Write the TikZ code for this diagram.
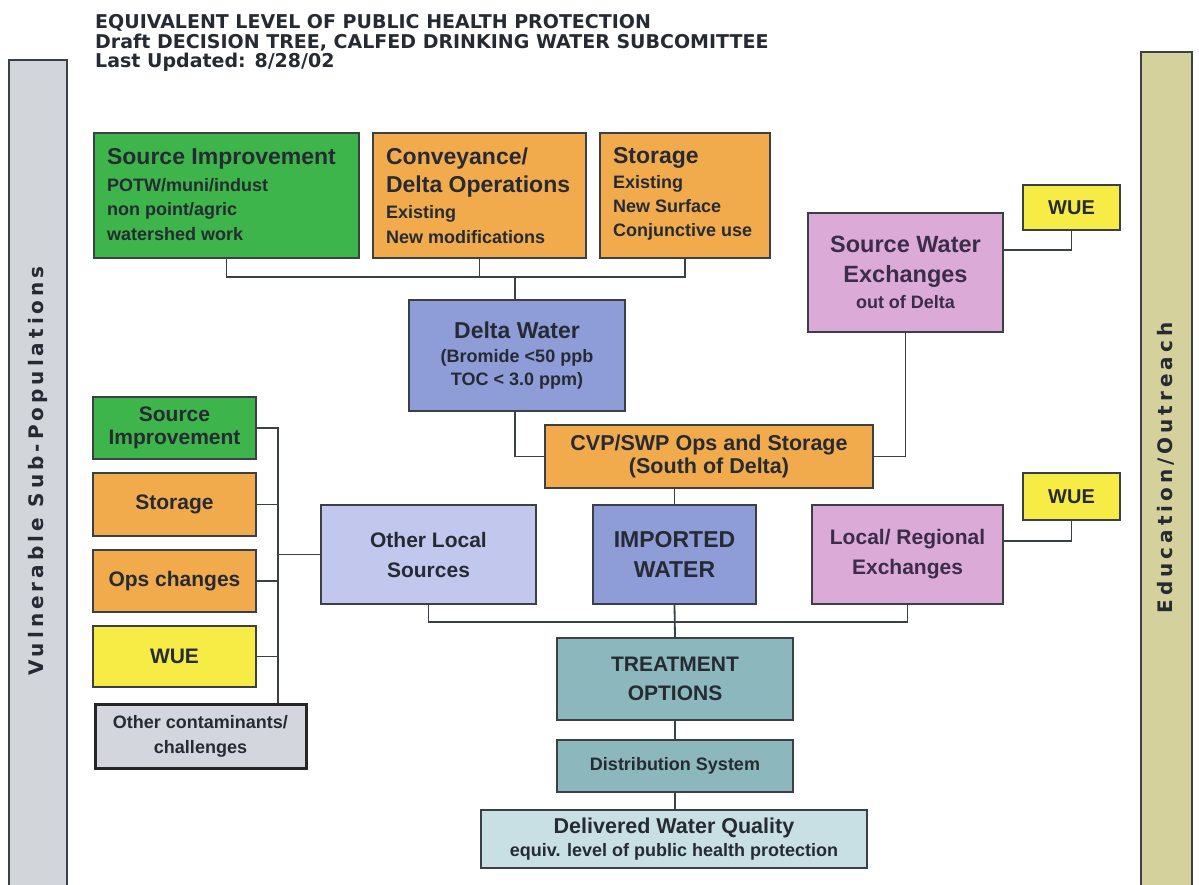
\documentclass[tikz,border=0pt]{standalone}
\usepackage{fontspec}
\setmainfont{Liberation Sans}
\newfontfamily\hdfont{DejaVu Sans}
\newfontfamily\vfont{DejaVu Sans}[LetterSpace=20]
\newcommand\fs[2]{\fontsize{#1}{#2}\selectfont}
\definecolor{bord}{HTML}{3B4046}
\definecolor{txt}{HTML}{262B33}
\definecolor{ptxt}{HTML}{3A2D4A}
\definecolor{cgreen}{HTML}{3DB54A}
\definecolor{corange}{HTML}{F1AA4C}
\definecolor{cyellow}{HTML}{F6EC45}
\definecolor{cblue}{HTML}{8E9CD8}
\definecolor{clblue}{HTML}{C2C7EE}
\definecolor{cpink}{HTML}{DCAAD6}
\definecolor{cteal}{HTML}{8CB8BD}
\definecolor{clteal}{HTML}{C8E0E4}
\definecolor{cgray}{HTML}{D3D6DC}
\definecolor{cbarl}{HTML}{D2D5DA}
\definecolor{cbarr}{HTML}{D4D19C}
\begin{document}
\begin{tikzpicture}[x=1pt,y=-1pt,
  box/.style={draw=bord, line width=2.2pt, inner sep=0pt, text=txt, align=center},
  ltxt/.style={anchor=west, inner sep=0pt, text=txt, align=left},
  conn/.style={draw=bord, line width=1.8pt},
  hd/.style={anchor=base west, inner sep=0pt, text=txt, font=\hdfont\bfseries\fs{19}{20}},
  vlab/.style={rotate=90, inner sep=0pt, text=txt, font=\vfont\bfseries\fs{20}{22}}
]
\useasboundingbox (0,0) rectangle (1199,884);
\fill[white] (0,0) rectangle (1199,884);

% side bars
\draw[draw=bord, line width=2.5pt, fill=cbarl] (9,60) rectangle (67,895);
\draw[draw=bord, line width=2.5pt, fill=cbarr] (1141,52) rectangle (1192,895);
\node[vlab] (vsp) at (38,471) {Vulnerable Sub-Populations};
\node[vlab] (edu) at (1166,468) {Education/Outreach};

% header
\node[hd] (t1) at (95,28.5) {EQUIVALENT LEVEL OF PUBLIC HEALTH PROTECTION};
\node[hd] (t2) at (95,48) {Draft DECISION TREE, CALFED DRINKING WATER SUBCOMITTEE};
\node[hd] (t3) at (95,67.5) {Last Updated: 8/28/02};

% top row
\node[box, fill=cgreen, minimum width=265pt, minimum height=125pt] (si) at (226.5,195.5) {};
\node[ltxt, font=\bfseries\fs{18}{24.5}] (sitxt) at ([xshift=14pt,yshift=1pt]si.west)
  {\fs{23}{27}Source Improvement\\[2pt]POTW/muni/indust\\non point/agric\\watershed work};
\node[box, fill=corange, minimum width=213pt, minimum height=125pt] (conv) at (479.5,195.5) {};
\node[ltxt, font=\bfseries\fs{18}{24.5}] (convtxt) at ([xshift=14pt]conv.west)
  {\fs{23}{27}Conveyance/\\[3.5pt]\fs{23}{27}Delta Operations\\[2pt]Existing\\New modifications};
\node[box, fill=corange, minimum width=170pt, minimum height=125pt] (stor) at (685,195.5) {};
\node[ltxt, font=\bfseries\fs{18}{24}] (stortxt) at ([xshift=14pt,yshift=2pt]stor.west)
  {\fs{23}{27}Storage\\[1pt]Existing\\New Surface\\Conjunctive use};

\node[box, fill=cblue, minimum width=216pt, minimum height=111pt, font=\bfseries\fs{18}{23}] (delta) at (517,355.5)
  {\fs{23}{27}Delta Water\\[1pt](Bromide <50 ppb\\TOC < 3.0 ppm)};
\node[box, fill=corange, minimum width=328pt, minimum height=63pt, font=\bfseries\fs{21.5}{23}] (cvp) at (709,456.5)
  {CVP/SWP Ops and Storage\\(South of Delta)};
\node[box, fill=cpink, text=ptxt, minimum width=195pt, minimum height=119pt, font=\bfseries\fs{18}{26}] (swe) at (905.5,272.5)
  {\fs{23.5}{30}Source Water\\[4pt]\fs{23.5}{30}Exchanges\\out of Delta};
\node[box, fill=cyellow, minimum width=97pt, minimum height=45pt, font=\bfseries\fs{20}{22}] (wue1) at (1071.5,207.5)
  {WUE};

% middle row
\node[box, fill=clblue, minimum width=215pt, minimum height=99pt, font=\bfseries\fs{21}{30}] (ols) at (428.5,554.5)
  {Other Local\\Sources};
\node[box, fill=cblue, minimum width=163pt, minimum height=99pt, font=\bfseries\fs{23}{30}] (imp) at (674.5,554.5)
  {IMPORTED\\WATER};
\node[box, fill=cpink, text=ptxt, minimum width=191pt, minimum height=99pt, font=\bfseries\fs{21}{30}] (lre) at (907.5,554.5)
  {Local/ Regional\\Exchanges};
\node[box, fill=cyellow, minimum width=97pt, minimum height=47pt, font=\bfseries\fs{20}{22}] (wue2) at (1071.5,496.5)
  {WUE};

% bottom chain
\node[box, fill=cteal, minimum width=236pt, minimum height=82pt, font=\bfseries\fs{21}{29}] (treat) at (675,679)
  {TREATMENT\\OPTIONS};
\node[box, fill=cteal, minimum width=236pt, minimum height=52pt, font=\bfseries\fs{18}{20}] (dist) at (675,766)
  {Distribution System};
\node[box, fill=clteal, minimum width=386pt, minimum height=58pt, font=\bfseries\fs{18}{23}] (dwq) at (674,839)
  {\fs{21.5}{23}Delivered Water Quality\\equiv. level of public health protection};

% left column
\node[box, fill=cgreen, minimum width=163pt, minimum height=62pt, font=\bfseries\fs{21}{23.5}] (lsi) at (174.5,428)
  {Source\\Improvement};
\node[box, fill=corange, minimum width=163pt, minimum height=63pt, font=\bfseries\fs{21}{24}] (lst) at (174.5,504.5)
  {Storage};
\node[box, fill=corange, minimum width=163pt, minimum height=62pt, font=\bfseries\fs{21}{24}] (lops) at (174.5,581)
  {Ops changes};
\node[box, fill=cyellow, minimum width=163pt, minimum height=61pt, font=\bfseries\fs{21}{24}] (lwue) at (174.5,656.5)
  {WUE};
\node[box, fill=cgray, draw=black!85, line width=3pt, minimum width=211pt, minimum height=64pt, font=\bfseries\fs{18}{25}] (loth) at (200.5,736)
  {Other contaminants/\\challenges};

% connectors
\coordinate (tb) at (515,277);
\draw[conn] (si.south) |- (tb) -| (stor.south);
\draw[conn] (conv.south) -- (conv.south |- tb);
\draw[conn] (tb) -- (tb |- delta.north);
\draw[conn] (tb |- delta.south) |- (cvp.west);
\draw[conn] (swe.south) |- (cvp.east);
\coordinate (w1) at (1072,250);
\draw[conn] (swe.east |- w1) -| (wue1.south);
\draw[conn] (imp.north |- cvp.south) -- (imp.north);
\coordinate (w2) at (1072,541);
\draw[conn] (lre.east |- w2) -| (wue2.south);
\coordinate (bb) at (675,622);
\draw[conn] (ols.south) |- (bb) -| (lre.south);
\draw[conn] (imp.south) -- (treat.north);
\draw[conn] (treat.south) -- (dist.north);
\draw[conn] (dist.south) -- (dist.south |- dwq.north);
\coordinate (lb) at (278,554.5);
\draw[conn] (lsi.east) -| (lb |- loth.north);
\draw[conn] (lst.east) -- (lst.east -| lb);
\draw[conn] (lops.east) -- (lops.east -| lb);
\draw[conn] (lwue.east) -- (lwue.east -| lb);
\draw[conn] (lb) -- (ols.west);
\end{tikzpicture}
\end{document}
